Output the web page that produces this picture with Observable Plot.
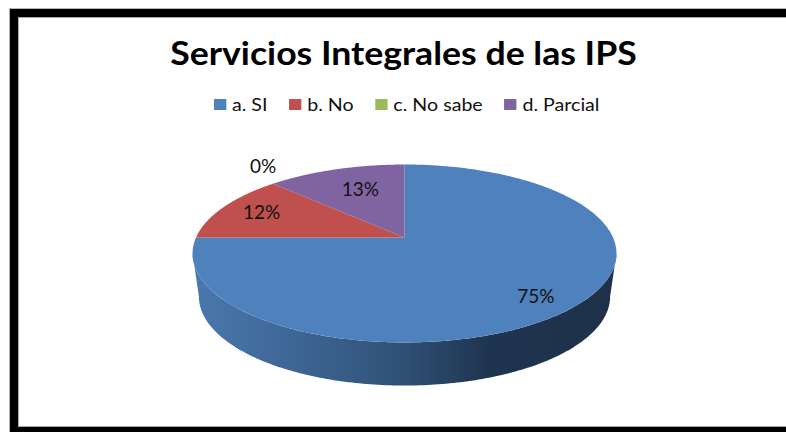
<!DOCTYPE html>
<html>
<head>
<meta charset="utf-8">
<script src="https://cdn.jsdelivr.net/npm/d3@7"></script>
<script src="https://cdn.jsdelivr.net/npm/@observablehq/plot@0.6"></script>
<style>
  html, body { margin: 0; padding: 0; background: #fff; }
  #chart { position: relative; width: 786px; height: 432px; overflow: hidden; font-family: Lato, sans-serif; }
  #frame { position: absolute; left: 10px; top: 9px; right: -10px; bottom: 0; box-sizing: border-box;
           border-left: 8px solid #000; border-top: 8px solid #000; border-bottom: 5px solid #000;
           box-shadow: 0 0 0 1px #b5b5b5, inset 0 0 0 1px #a8a8a8; }
  #plot { position: absolute; left: 0; top: 0; }
  #title { position: absolute; left: 0; top: 30px; width: 807px; text-align: center; margin: 0;
           font: 700 33px/44px Lato, sans-serif; color: #000; transform: scaleX(1.08); transform-origin: 403.5px 0; }
  #legend { position: absolute; left: 214px; top: 88px; transform: scaleX(1.12); transform-origin: 0 0; }
  #legend [class$="-swatch"] { margin-right: 19.5px !important; }
  #legend [class$="-swatch"] > svg { margin-right: 5px !important; }
</style>
</head>
<body>
<div id="chart">
  <div id="frame"></div>
  <div id="plot"></div>
  <h1 id="title"></h1>
  <div id="legend"></div>
</div>
<script>
const titleText = "Servicios Integrales de las IPS";
const categories = ["a. SI", "b. No", "c. No sabe", "d. Parcial"];
const shares = [75, 12.4, 0, 12.6];
const colors = ["#4f81bd", "#c0504d", "#9bbb59", "#8064a2"];

// Tilted-disc perspective: unit circle (u, v) to the picture plane.
const tilt = 0.18, depth = 0.5, footScale = 0.97;
const persp = (u, v) => [u / (1 + tilt * v), v / (1 + tilt * v)];
const onDisc = (turn, r = 1) => persp(r * Math.sin(2 * Math.PI * turn), r * Math.cos(2 * Math.PI * turn));

const total = d3.sum(shares);
let acc = 0;
const slices = categories.map((name, i) => {
  const start = acc / total; acc += shares[i];
  return { name, share: shares[i] / total, start, end: acc / total, color: colors[i] };
});

const steps = d3.range(0, 181);
const wedge = slices.flatMap(s =>
  s.share === 0 ? [] : [
    { name: s.name, p: [0, 0] },
    ...steps.map(k => ({ name: s.name, p: onDisc(s.start + (s.end - s.start) * k / 180) })),
    { name: s.name, p: [0, 0] }
  ]);

// silhouette of the disc between its widest points, then the foot of the side wall coming back
const wide = Math.asin(tilt) / (2 * Math.PI);
const rim = steps.map(k => onDisc(0.25 + wide + (0.5 - 2 * wide) * k / 180));
const side = [...rim, ...rim.slice().reverse().map(([x, y]) => [x * footScale, y - depth])];

const labelRadius = [0.83, 0.78, 1.084, 0.66];
const labelShift = [0.007, 0, 0, 0.005];
const labels = slices.map((s, i) => {
  const [x, y] = onDisc((s.start + s.end) / 2 + labelShift[i], labelRadius[i]);
  return { x, y, text: d3.format(".0%")(s.share), share: s.share };
});

const gradientStops = [
  [0, "#4a79ae"], [0.25, "#3d6594"], [0.5, "#2f5074"], [0.7, "#1f3450"], [1, "#1e3148"]
];
const labelStyle = { fontSize: 19, fontFamily: "Lato, sans-serif", fill: "#111" };

const plot = Plot.plot({
  width: 786, height: 432, margin: 0,
  style: { background: "transparent", overflow: "visible" },
  x: { axis: null, domain: [-1, 1], range: [404 - 208.5, 404 + 208.5] },
  y: { axis: null, domain: [-1, 1], range: [237 + 86.1, 237 - 86.1] },
  color: { domain: categories, range: colors },
  marks: [
    () => {
      const defs = d3.create("svg:defs");
      const g = defs.append("linearGradient").attr("id", "sideShade");
      gradientStops.forEach(([o, c]) => g.append("stop").attr("offset", o).attr("stop-color", c));
      return defs.node();
    },
    Plot.line(side, { x: "0", y: "1", fill: "url(#sideShade)", stroke: null }),
    Plot.line(wedge, { x: d => d.p[0], y: d => d.p[1], z: "name", fill: "name", stroke: null, curve: "linear" }),
    Plot.text(labels.filter(d => d.share > 0), { x: "x", y: "y", text: "text", ...labelStyle }),
    Plot.text(labels.filter(d => d.share === 0), { x: "x", y: "y", dy: -13, text: "text", ...labelStyle })
  ]
});
document.getElementById("plot").append(plot);
document.getElementById("title").textContent = titleText;

const legend = plot.legend("color", { legend: "swatches", swatchSize: 11, className: "lg",
  style: { fontSize: "17.5px", fontFamily: "Lato, sans-serif", color: "#111", margin: 0 } });
document.getElementById("legend").append(legend);
</script>
</body>
</html>
